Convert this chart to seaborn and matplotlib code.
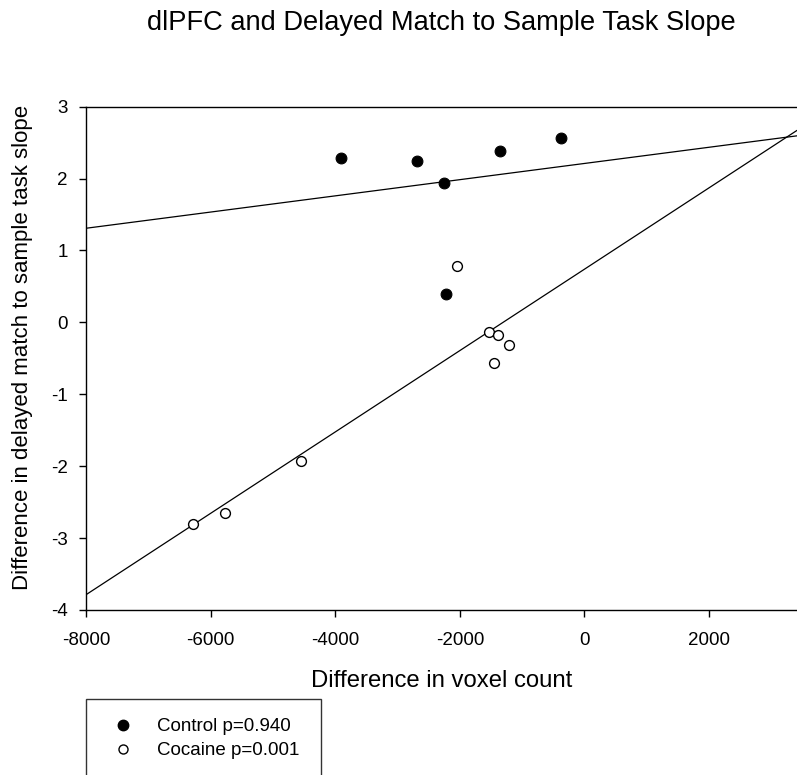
import matplotlib
matplotlib.use("Agg")
import matplotlib.pyplot as plt
from matplotlib.lines import Line2D
import seaborn as sns
import pandas as pd

# Per-subject differences (voxel count vs. task slope)
control_x = [-3910, -2688, -1352, -379, -2255, -2229]
control_y = [2.29, 2.24, 2.38, 2.57, 1.94, 0.40]
cocaine_x = [-2047, -1529, -1380, -1208, -1459, -4552, -5771, -6279]
cocaine_y = [0.78, -0.13, -0.18, -0.31, -0.56, -1.93, -2.65, -2.81]

group_labels = ["Control p=0.940", "Cocaine p=0.001"]
x_ticks = [-8000, -6000, -4000, -2000, 0, 2000]
y_ticks = [-4, -3, -2, -1, 0, 1, 2, 3]

control = pd.DataFrame({"voxels": control_x, "slope": control_y})
cocaine = pd.DataFrame({"voxels": cocaine_x, "slope": cocaine_y})

sns.set_style("ticks", rc={"text.color": "black", "axes.labelcolor": "black",
                           "xtick.color": "black", "ytick.color": "black",
                           "axes.edgecolor": "black"})
plt.rcParams["font.family"] = ["Liberation Sans", "DejaVu Sans"]

W, H = 797, 775
fig = plt.figure(figsize=(W / 100, H / 100), dpi=100)
left, right, top, bottom = 86, 797, 106.7, 610
ax = fig.add_axes([left / W, 1 - bottom / H, (right - left) / W, (bottom - top) / H])

xlim = (-8000, 3411)
ylim = (-4, 3)
ax.set_xlim(xlim)
ax.set_ylim(ylim)

# Least-squares fit for each group, extended across the full x range
line_kws = dict(color="black", lw=0.9)
sns.regplot(data=control, x="voxels", y="slope", scatter=False, ci=None,
            truncate=False, line_kws=line_kws, ax=ax)
sns.regplot(data=cocaine, x="voxels", y="slope", scatter=False, ci=None,
            truncate=False, line_kws=line_kws, ax=ax)

sns.scatterplot(data=control, x="voxels", y="slope", color="black",
                edgecolor="black", s=60, linewidth=0.8, ax=ax, zorder=3)
sns.scatterplot(data=cocaine, x="voxels", y="slope", color="white",
                edgecolor="black", s=50, linewidth=1.0, ax=ax, zorder=3)

ax.set_xlim(xlim)
ax.set_ylim(ylim)
ax.set_xticks(x_ticks)
ax.set_yticks(y_ticks)
ax.set_xticklabels([str(t) for t in x_ticks])
ax.set_yticklabels([str(t) for t in y_ticks])
ax.tick_params(direction="out", length=5, width=1, colors="black",
               labelsize=13.5)
ax.tick_params(axis="x", pad=10.5)
ax.tick_params(axis="y", pad=8)

for side in ["left", "bottom", "top"]:
    ax.spines[side].set_visible(True)
    ax.spines[side].set_color("black")
    ax.spines[side].set_linewidth(1.0)
ax.spines["right"].set_visible(False)

ax.set_xlabel("Difference in voxel count", fontsize=17.2, va="center")
ax.set_ylabel("Difference in delayed match to sample task slope",
              fontsize=16, va="center")
ax.xaxis.set_label_coords(0.5, (bottom - 681) / (bottom - top))
ax.yaxis.set_label_coords((23 - left) / (right - left), (bottom - 347.5) / (bottom - top))

fig.text((left + right) / 2 / W, 1 - 30 / H,
         "dlPFC and Delayed Match to Sample Task Slope",
         ha="center", va="baseline", fontsize=19.6)

handles = [
    Line2D([], [], ls="none", marker="o", markersize=7.5,
           markerfacecolor="black", markeredgecolor="black"),
    Line2D([], [], ls="none", marker="o", markersize=6.5,
           markerfacecolor="white", markeredgecolor="black", markeredgewidth=1.0),
]
leg_left, leg_right, leg_top = 85.7, 320.7, 699
leg = fig.legend(handles, group_labels, loc="upper left",
                 bbox_to_anchor=(leg_left / W, 1 - leg_top / H - 0.2,
                                 (leg_right - leg_left) / W, 0.2),
                 mode="expand", borderaxespad=0, fontsize=13.5,
                 frameon=True, fancybox=False, borderpad=1.02,
                 handlelength=1.95, handletextpad=0.85, labelspacing=0.36)
leg.get_frame().set_edgecolor("black")
leg.get_frame().set_linewidth(1.0)

fig.savefig("out.png", dpi=100, facecolor="white")
